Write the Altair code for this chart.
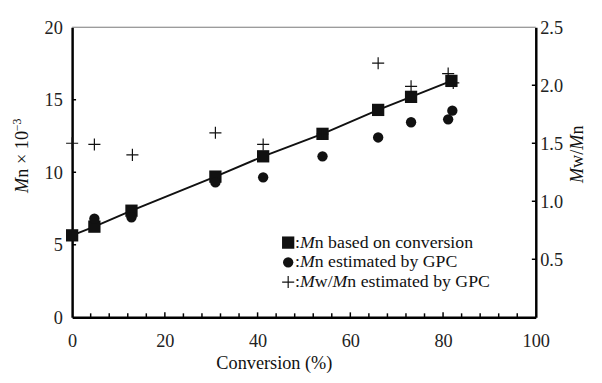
import altair as alt
import pandas as pd

# ---- data ----
conv_sq = [0, 4.8, 12.8, 30.9, 41.2, 54, 66, 73.1, 81.8]
mn_sq = [5.65, 6.25, 7.35, 9.7, 11.1, 12.65, 14.3, 15.2, 16.3]

conv_gpc = [4.8, 12.8, 30.9, 41.2, 54, 66, 73.1, 81.1, 82.0]
mn_gpc = [6.8, 6.9, 9.3, 9.65, 11.1, 12.4, 13.45, 13.65, 14.25]

conv_pdi = [0, 4.8, 13.0, 30.9, 41.2, 54, 66, 73.1, 81.1, 82.2]
pdi = [1.5, 1.49, 1.4, 1.59, 1.49, 1.58, 2.19, 1.99, 2.1, 2.02]

x_labels = [0, 20, 40, 60, 80, 100]
x_minor = [v for v in range(4, 100, 4) if v % 20 != 0]
x_major = [20, 40, 60, 80]
left_labels = [0, 5, 10, 15, 20]
left_ticks = [5, 10, 15]
right_labels = [0.5, 1.0, 1.5, 2.0, 2.5]
right_ticks = [0.5, 1.0, 1.5, 2.0]

legend_rows = ["n based on conversion", "n estimated by GPC", "n estimated by GPC"]
x_title = "Conversion (%)"

W, H = 470, 294
FONT = "Liberation Serif"
FS = 18.5
INK = "#111111"

x_scale = alt.Scale(domain=[0, 100], nice=False, zero=False)
x_axis = alt.Axis(values=x_labels, ticks=False, tickSize=0, labelPadding=15, title=None,
                  grid=False, domainColor="black", domainWidth=2.5, labelFontSize=FS,
                  labelFont=FONT, labelColor="#222222", labelFlush=False)
yl_scale = alt.Scale(domain=[0, 20], nice=False, zero=True)
yl_axis = alt.Axis(values=left_labels, ticks=False, tickSize=0, labelPadding=10, title=None,
                   grid=False, domainColor="black", domainWidth=2.5, labelFontSize=FS,
                   labelFont=FONT, labelColor="#222222", orient="left")
yr_scale = alt.Scale(domain=[0, 2.5], nice=False, zero=True)
yr_axis = alt.Axis(values=right_labels, format=".1f", ticks=False, tickSize=0, labelPadding=4,
                   title=None, grid=False, domainColor="black", domainWidth=2.5, labelFontSize=FS,
                   labelFont=FONT, labelColor="#222222", orient="right")


def X(field):
    return alt.X(field, scale=x_scale, axis=x_axis)


def YL(field):
    return alt.Y(field, scale=yl_scale, axis=yl_axis)


def YR(field):
    return alt.Y(field, scale=yr_scale, axis=yr_axis)


def txt(s, x, y, size=FS, italic=False, angle=0, align="left", baseline="middle"):
    return alt.Chart(pd.DataFrame({"t": [s]})).mark_text(
        align=align, baseline=baseline, fontSize=size, font=FONT,
        fontStyle="italic" if italic else "normal", angle=angle, color=INK
    ).encode(x=alt.value(x), y=alt.value(y), text="t:N")


df_sq = pd.DataFrame({"conv": conv_sq, "mn": mn_sq})
df_gpc = pd.DataFrame({"conv": conv_gpc, "mn": mn_gpc})
df_pdi = pd.DataFrame({"conv": conv_pdi, "pdi": pdi})

PLUS = "M-1,0L1,0M0,-1L0,1"

line = alt.Chart(df_sq).mark_line(color=INK, strokeWidth=2).encode(x=X("conv:Q"), y=YL("mn:Q"))
squares = alt.Chart(df_sq).mark_point(shape="square", filled=True, size=155, color=INK, opacity=1).encode(
    x=X("conv:Q"), y=YL("mn:Q"))
circles = alt.Chart(df_gpc).mark_point(shape="circle", filled=True, size=110, color=INK, opacity=1).encode(
    x=X("conv:Q"), y=YL("mn:Q"))
pluses = alt.Chart(df_pdi).mark_point(shape=PLUS, filled=False, size=150, color=INK, strokeWidth=1.2,
                                      opacity=1).encode(x=X("conv:Q"), y=YR("pdi:Q"))

# inward ticks
bx_minor = alt.Chart(pd.DataFrame({"v": x_minor})).mark_rule(color="black", strokeWidth=1.5).encode(
    x=X("v:Q"), y=alt.value(H), y2=alt.value(H - 4))
bx_major = alt.Chart(pd.DataFrame({"v": x_major})).mark_rule(color="black", strokeWidth=1.5).encode(
    x=X("v:Q"), y=alt.value(H), y2=alt.value(H - 5))
l_ticks = alt.Chart(pd.DataFrame({"v": left_ticks})).mark_rule(color="black", strokeWidth=1.5).encode(
    y=YL("v:Q"), x=alt.value(0), x2=alt.value(4))
r_ticks = alt.Chart(pd.DataFrame({"v": right_ticks})).mark_rule(color="black", strokeWidth=1.5).encode(
    y=YR("v:Q"), x=alt.value(W), x2=alt.value(W - 4))
top_border = alt.Chart(pd.DataFrame({"a": [0]})).mark_rule(color="#777777", strokeWidth=1).encode(
    x=alt.value(0), x2=alt.value(W), y=alt.value(0))

# legend
LX, LY0, LDY = 219, 218.3, 20
leg_sym = [
    alt.Chart(pd.DataFrame({"a": [0]})).mark_point(shape="square", filled=True, size=155, color=INK, opacity=1)
    .encode(x=alt.value(LX), y=alt.value(LY0)),
    alt.Chart(pd.DataFrame({"a": [0]})).mark_point(shape="circle", filled=True, size=110, color=INK, opacity=1)
    .encode(x=alt.value(LX), y=alt.value(LY0 + LDY)),
    alt.Chart(pd.DataFrame({"a": [0]})).mark_point(shape=PLUS, filled=False, size=150, color=INK,
                                                   strokeWidth=1.2, opacity=1)
    .encode(x=alt.value(LX), y=alt.value(LY0 + 2 * LDY)),
]
LF = 18
leg_txt = []
for i in range(3):
    yy = LY0 + i * LDY
    leg_txt.append(txt(":", LX + 7, yy, LF))
    leg_txt.append(txt("M", LX + 12, yy, LF, italic=True))
    if i < 2:
        leg_txt.append(txt(legend_rows[i], LX + 27, yy, LF))
    else:
        leg_txt.append(txt("w/", LX + 27, yy, LF))
        leg_txt.append(txt("M", LX + 45, yy, LF, italic=True))
        leg_txt.append(txt(legend_rows[i], LX + 60, yy, LF))

# axis titles
RX = 512
titles = [
    txt(x_title, 205, 346.5, FS, align="center", baseline="alphabetic"),
    # left: M n x 10^-3 (rotated)
    txt("M", -51, 168, FS, italic=True, angle=270),
    txt("n \u00d7 10", -51, 152.6, FS, angle=270),
    txt("\u22123", -56, 105.4, 12, angle=270),
    # right: Mw/Mn
    txt("M", RX, 158, FS, italic=True, angle=270),
    txt("w/", RX, 142.6, FS, angle=270),
    txt("M", RX, 124.1, FS, italic=True, angle=270),
    txt("n", RX, 108.7, FS, angle=270),
]

left_group = alt.layer(top_border, bx_minor, bx_major, l_ticks, line, squares, circles,
                       *leg_sym, *leg_txt, *titles)
right_group = alt.layer(r_ticks, pluses)

chart = alt.layer(left_group, right_group).resolve_scale(y="independent").properties(
    width=W, height=H,
    autosize=alt.AutoSizeParams(type="none"),
    padding={"left": 65, "top": 17, "right": 59, "bottom": 56},
    background="white",
).configure_view(stroke=None)

chart.save("out.html", embed_options={"renderer": "svg", "actions": False})
